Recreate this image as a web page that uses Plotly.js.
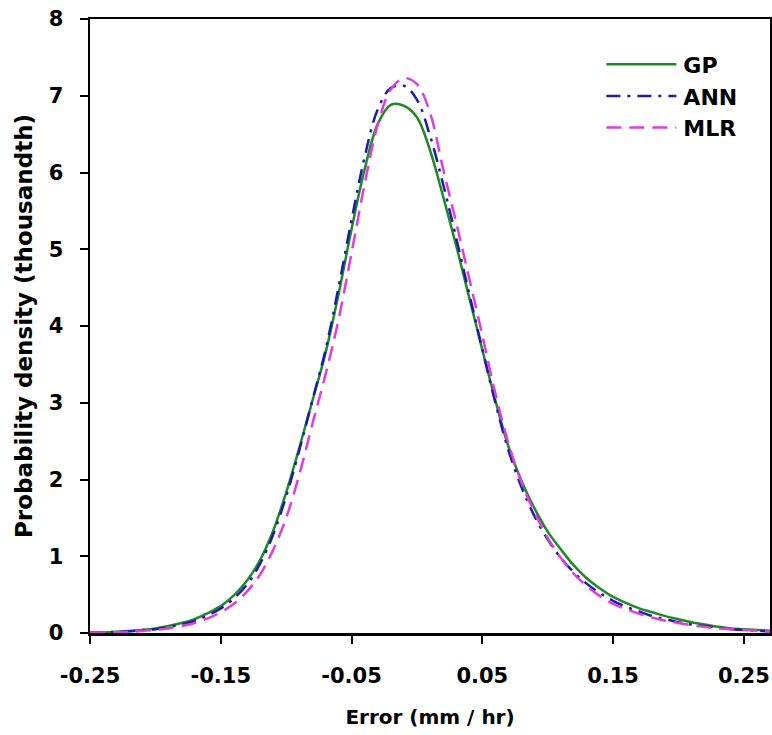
<!DOCTYPE html>
<html>
<head>
<meta charset="utf-8">
<script src="https://cdn.plot.ly/plotly-3.0.1.min.js"></script>
<style>html,body{margin:0;padding:0;background:#fff;}#chart{width:772px;height:735px;}</style>
</head>
<body>
<div id="chart"></div>
<script>
// Error (mm / hr)
const errorX = [-0.25,-0.24,-0.23,-0.22,-0.21,-0.20,-0.19,-0.18,-0.17,-0.16,-0.15,-0.14,-0.13,-0.12,-0.11,-0.10,-0.09,-0.08,-0.07,-0.06,-0.05,-0.04,-0.03,-0.02,-0.01,0.00,0.01,0.02,0.03,0.04,0.05,0.06,0.07,0.08,0.09,0.10,0.11,0.12,0.13,0.14,0.15,0.16,0.17,0.18,0.19,0.20,0.21,0.22,0.23,0.24,0.25,0.26,0.27];
// Probability density (thousandth)
const gpValues  = [0.004,0.008,0.015,0.025,0.04,0.06,0.09,0.13,0.18,0.26,0.35,0.49,0.68,0.95,1.33,1.83,2.41,3.02,3.64,4.41,5.26,6.04,6.63,6.88,6.87,6.72,6.29,5.69,5.05,4.37,3.69,3.03,2.43,1.98,1.62,1.32,1.09,0.88,0.71,0.58,0.47,0.39,0.32,0.27,0.22,0.18,0.14,0.11,0.08,0.06,0.05,0.04,0.03];
const annValues = [0.003,0.007,0.013,0.022,0.035,0.05,0.08,0.11,0.16,0.23,0.32,0.45,0.63,0.90,1.28,1.78,2.38,3.03,3.68,4.50,5.38,6.20,6.82,7.10,7.13,6.95,6.48,5.85,5.15,4.42,3.70,3.00,2.38,1.90,1.52,1.22,0.98,0.79,0.64,0.52,0.42,0.34,0.28,0.22,0.18,0.14,0.11,0.09,0.07,0.05,0.04,0.03,0.02];
const mlrValues = [0.002,0.005,0.01,0.015,0.025,0.04,0.06,0.09,0.13,0.19,0.27,0.38,0.54,0.76,1.08,1.50,2.06,2.72,3.36,4.08,4.95,5.85,6.62,7.08,7.23,7.15,6.78,6.05,5.35,4.62,3.88,3.12,2.47,1.96,1.57,1.24,0.98,0.77,0.61,0.48,0.38,0.31,0.25,0.20,0.16,0.13,0.10,0.08,0.06,0.05,0.04,0.03,0.02];
const seriesNames = ["GP","ANN","MLR"];
const xTickVals = [-0.25,-0.15,-0.05,0.05,0.15,0.25];
const xTickText = ["-0.25","-0.15","-0.05","0.05","0.15","0.25"];
const yTickVals = [0,1,2,3,4,5,6,7,8];

const font = "'DejaVu Sans', Arial, sans-serif";
const traces = [
  {x: errorX, y: gpValues, name: seriesNames[0], type: "scatter", mode: "lines",
   line: {color: "#1f8a24", width: 2.5, shape: "spline", smoothing: 1}},
  {x: errorX, y: annValues, name: seriesNames[1], type: "scatter", mode: "lines",
   line: {color: "#1c1ca8", width: 2.5, dash: "14px,7px,3px,7px", shape: "spline", smoothing: 1}},
  {x: errorX, y: mlrValues, name: seriesNames[2], type: "scatter", mode: "lines",
   line: {color: "#e03ce0", width: 2.5, dash: "15px,8px", shape: "spline", smoothing: 1}}
];
const axisCommon = {
  showline: true, linecolor: "#000", linewidth: 2.5, mirror: true,
  ticks: "outside", ticklen: 8, tickwidth: 2, tickcolor: "#000",
  showgrid: false, zeroline: false,
  tickfont: {family: font, size: 21, color: "#000", weight: "bold"}
};
const layout = {
  width: 772, height: 735,
  margin: {l: 90, r: 2, t: 19, b: 102},
  paper_bgcolor: "#fff", plot_bgcolor: "#fff",
  showlegend: true,
  legend: {x: 0.752, y: 0.96, xanchor: "left", yanchor: "top", bgcolor: "rgba(0,0,0,0)",
    font: {family: font, size: 22, color: "#000", weight: "bold"}, itemwidth: 72, tracegroupgap: 0},
  xaxis: Object.assign({}, axisCommon, {
    range: [-0.25, 0.27], tickmode: "array", tickvals: xTickVals, ticktext: xTickText,
    ticklabelstandoff: 14,
    title: {text: "Error (mm / hr)", font: {family: font, size: 20, color: "#000", weight: "bold"}, standoff: 24}
  }),
  yaxis: Object.assign({}, axisCommon, {
    range: [0, 8], tickmode: "array", tickvals: yTickVals,
    ticklabelstandoff: 12,
    title: {text: "Probability density (thousandth)", font: {family: font, size: 23, color: "#000", weight: "bold"}, standoff: 10}
  })
};
function widenLegendLines() {
  document.querySelectorAll("#chart .legendlines path").forEach(function (p) {
    p.setAttribute("d", "M5,0h70");
  });
}
Plotly.newPlot("chart", traces, layout, {displayModeBar: false, staticPlot: true}).then(function (gd) {
  widenLegendLines();
  gd.on("plotly_afterplot", widenLegendLines);
});
</script>
</body>
</html>
